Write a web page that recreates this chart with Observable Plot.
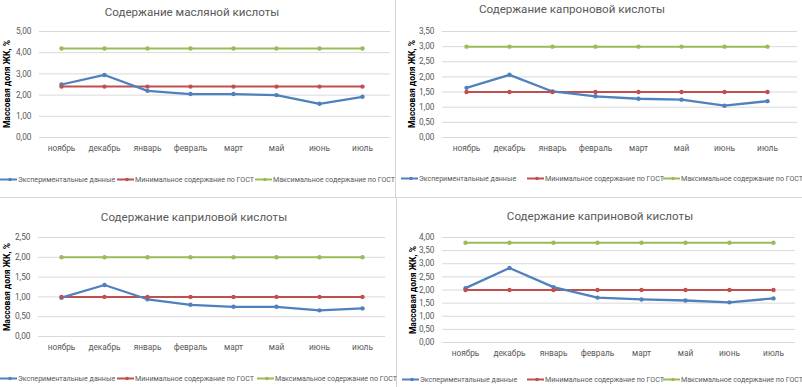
<!DOCTYPE html>
<html><head><meta charset="utf-8">
<script src="https://cdn.jsdelivr.net/npm/d3@7"></script>
<script src="https://cdn.jsdelivr.net/npm/@observablehq/plot@0.6"></script>
<style>
body{margin:0;background:#fff;font-family:Roboto,"Noto Sans",sans-serif;}
#root{position:relative;width:802px;height:387px;overflow:hidden;background:#fff}
.title{position:absolute;transform:translate(-50%,-50%);font-size:11.6px;color:#595959;white-space:nowrap}
.ylab{position:absolute;transform:translate(-50%,-50%) rotate(-90deg);font-size:8.5px;font-weight:bold;color:#000;white-space:nowrap}
.leg{position:absolute;transform:translateY(-50%);font-size:7.1px;color:#595959;white-space:nowrap;display:flex;align-items:center}
.leg svg{margin-right:1px}
.plot{position:absolute}
.border{position:absolute;background:#d6d6d6}
</style></head><body><div id="root"></div>
<script>
const months = ["ноябрь","декабрь","январь","февраль","март","май","июнь","июль"];
const titles = ["Содержание масляной кислоты","Содержание капроновой кислоты","Содержание каприловой кислоты","Содержание каприновой кислоты"];
const butyric  = [2.50, 2.95, 2.20, 2.05, 2.05, 2.00, 1.59, 1.92];
const caproic  = [1.64, 2.07, 1.52, 1.36, 1.28, 1.25, 1.05, 1.20];
const caprylic = [0.98, 1.30, 0.94, 0.80, 0.75, 0.75, 0.66, 0.71];
const capric   = [2.07, 2.84, 2.11, 1.71, 1.64, 1.60, 1.53, 1.68];
const gostMin = [2.4, 1.5, 1.0, 2.0];
const gostMax = [4.2, 3.0, 2.0, 3.8];
const yMax  = [5, 3.5, 2.5, 4];
const yStep = [1, 0.5, 0.5, 0.5];
const seriesNames = ["Экспериментальные данные","Минимальное содержание по ГОСТ","Максимальное содержание по ГОСТ"];
const colors = ["#4f81bd","#c0504d","#9bbb59"];
const axisLabel = "Массовая доля ЖК, %";
const experimental = [butyric, caproic, caprylic, capric];

const layout = [
  {left:0,   top:20,  width:395, height:140, ml:39, mr:5,  mt:11, mb:23, ir:6, tx:192, ty:12,  ax:7,  ly:179, sw:[0,117,255]},
  {left:400, top:20,  width:400, height:140, ml:42, mr:3,  mt:11, mb:23, ir:6, tx:572, ty:9,   ax:412, ly:178, sw:[401,527,663]},
  {left:0,   top:226, width:395, height:133, ml:38, mr:10, mt:11, mb:23, ir:0, tx:194, ty:217, ax:7,  ly:378, sw:[0,117,257]},
  {left:400, top:226, width:400, height:140, ml:42, mr:5,  mt:11, mb:24, ir:0, tx:600, ty:216, ax:413, ly:379, sw:[402,527,663]}
];

const root = document.getElementById("root");
const fmt = d => d.toFixed(2).replace(".", ",");

function addBorder(x, y, w, h) {
  const b = document.createElement("div");
  b.className = "border";
  Object.assign(b.style, {left:x+"px", top:y+"px", width:w+"px", height:h+"px"});
  root.appendChild(b);
}
addBorder(395, 0, 1, 198);
addBorder(0, 197, 802, 1);
addBorder(396, 198, 1, 189);

function swatch(color) {
  const ns = "http://www.w3.org/2000/svg";
  const s = document.createElementNS(ns, "svg");
  s.setAttribute("width", 17); s.setAttribute("height", 6);
  const l = document.createElementNS(ns, "line");
  l.setAttribute("x1", 0); l.setAttribute("x2", 17); l.setAttribute("y1", 3); l.setAttribute("y2", 3);
  l.setAttribute("stroke", color); l.setAttribute("stroke-width", 2);
  const c = document.createElementNS(ns, "circle");
  c.setAttribute("cx", 10); c.setAttribute("cy", 3); c.setAttribute("r", 1.8); c.setAttribute("fill", color);
  s.appendChild(l); s.appendChild(c);
  return s;
}

layout.forEach((L, i) => {
  const rows = [];
  months.forEach((m, j) => rows.push({month:m, value:experimental[i][j], series:seriesNames[0]}));
  months.forEach((m, j) => rows.push({month:m, value:gostMin[i], series:seriesNames[1]}));
  months.forEach((m, j) => rows.push({month:m, value:gostMax[i], series:seriesNames[2]}));
  const ticks = d3.range(0, yMax[i] + 1e-9, yStep[i]);

  const chart = Plot.plot({
    width: L.width, height: L.height,
    marginLeft: L.ml, marginRight: L.mr, marginTop: L.mt, marginBottom: L.mb,
    style: {fontFamily: "Roboto, 'Noto Sans', sans-serif", fontSize: "8px", color: "#595959", background: "transparent"},
    x: {type: "point", domain: months, padding: 0.5, insetRight: L.ir, label: null},
    y: {domain: [0, yMax[i]], label: null},
    color: {domain: seriesNames, range: colors},
    marks: [
      Plot.gridY(ticks, {stroke: "#d9d9d9", strokeOpacity: 1, strokeWidth: 1}),
      Plot.axisY(ticks, {tickSize: 0, tickPadding: 8, tickFormat: fmt, fontSize: 8.3, label: null}),
      Plot.axisX({tickSize: 0, tickPadding: 8, fontSize: 8.3, label: null}),
      Plot.lineY(rows.filter(r => r.series !== seriesNames[0]), {x: "month", y: "value", z: "series", stroke: "series", strokeWidth: 2}),
      Plot.lineY(rows.filter(r => r.series === seriesNames[0]), {x: "month", y: "value", stroke: "series", strokeWidth: 2.3}),
      Plot.dot(rows, {x: "month", y: "value", fill: "series", r: 2.2})
    ]
  });
  chart.classList.add("plot");
  chart.style.left = L.left + "px";
  chart.style.top = L.top + "px";
  root.appendChild(chart);

  const t = document.createElement("div");
  t.className = "title";
  t.textContent = titles[i];
  t.style.left = L.tx + "px";
  t.style.top = L.ty + "px";
  root.appendChild(t);

  const yl = document.createElement("div");
  yl.className = "ylab";
  yl.textContent = axisLabel;
  yl.style.left = L.ax + "px";
  yl.style.top = (L.top + L.mt + (L.height - L.mt - L.mb) / 2) + "px";
  root.appendChild(yl);

  seriesNames.forEach((name, k) => {
    const item = document.createElement("div");
    item.className = "leg";
    item.style.left = L.sw[k] + "px";
    item.style.top = L.ly + "px";
    item.appendChild(swatch(colors[k]));
    const span = document.createElement("span");
    span.textContent = name;
    item.appendChild(span);
    root.appendChild(item);
  });
});
</script>
</body></html>
